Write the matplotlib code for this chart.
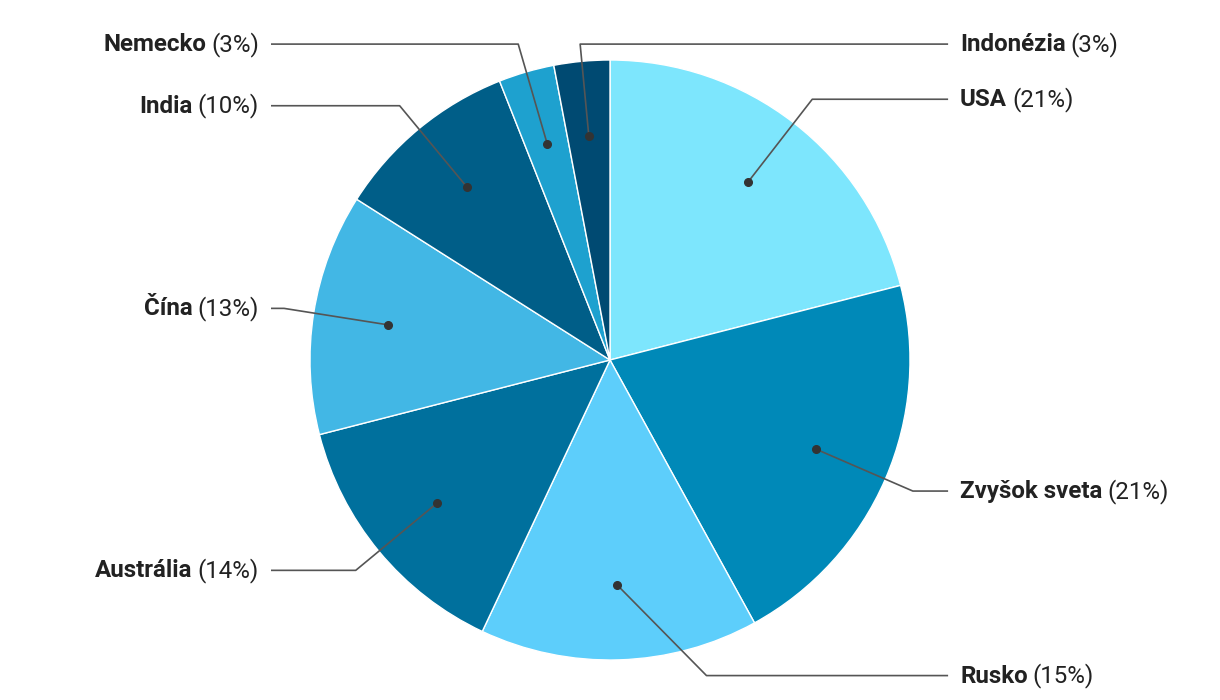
import numpy as np
import matplotlib.pyplot as plt

plt.rcParams['font.family'] = ['Roboto', 'DejaVu Sans']

# data
countries = ["USA", "Zvyšok sveta", "Rusko", "Austrália", "Čína", "India", "Nemecko", "Indonézia"]
shares = [21, 21, 15, 14, 13, 10, 3, 3]
colors = ["#7de6fd", "#0089b8", "#5dcefb", "#00709d", "#42b7e5", "#005e88", "#1ea1cf", "#004a72"]

# Rusko's leader is bent away from the bottom edge, Indonézia goes to the right
elbow_angle = {"Rusko": 163.0}
force_right = {"Indonézia"}

fig = plt.figure(figsize=(12.2, 7), dpi=100)
ax = fig.add_axes([0, 0, 1, 1])

wedges, _ = ax.pie(shares, colors=colors, startangle=90, counterclock=False,
                   radius=1.0, wedgeprops=dict(edgecolor="white", linewidth=1.0))
ax.set_xlim(-610 / 300, 610 / 300)
ax.set_ylim(-340 / 300, 360 / 300)
ax.set_aspect("equal")
ax.axis("off")

fig.canvas.draw()
renderer = fig.canvas.get_renderer()
px = 1 / 300  # data units per pixel
fs = 17.4
gap = 5 * px

for w, name, val in zip(wedges, countries, shares):
    mid = np.deg2rad((w.theta1 + w.theta2) / 2)
    dot = np.array([0.75 * np.cos(mid), 0.75 * np.sin(mid)])
    ang = mid
    if name in elbow_angle:
        ang = np.deg2rad(90 - elbow_angle[name])
    elbow = np.array([1.1 * np.cos(ang), 1.1 * np.sin(ang)])
    ymax = 1.053
    if abs(elbow[1]) > ymax:
        elbow = elbow * ymax / abs(elbow[1])
    right = elbow[0] >= 0 or name in force_right
    end_x = 1.127 if right else -1.13
    ax.plot([dot[0], elbow[0], end_x], [dot[1], elbow[1], elbow[1]],
            color="#555555", lw=1.2, solid_capstyle="butt", zorder=3)
    ax.plot(dot[0], dot[1], "o", color="#333333", ms=5.5, zorder=4)

    y = elbow[1] - 7 * px
    if right:
        t1 = ax.text(end_x + 12 * px, y, name, fontsize=fs, fontweight="bold",
                     color="#222222", ha="left", va="baseline")
        wd = t1.get_window_extent(renderer).width * px
        ax.text(end_x + 12 * px + wd + gap, y, "(%d%%)" % val, fontsize=fs,
                color="#222222", ha="left", va="baseline")
    else:
        t2 = ax.text(end_x - 12 * px, y, "(%d%%)" % val, fontsize=fs,
                     color="#222222", ha="right", va="baseline")
        wd = t2.get_window_extent(renderer).width * px
        ax.text(end_x - 12 * px - wd - gap, y, name, fontsize=fs, fontweight="bold",
                color="#222222", ha="right", va="baseline")

fig.savefig("out.png", dpi=100)
